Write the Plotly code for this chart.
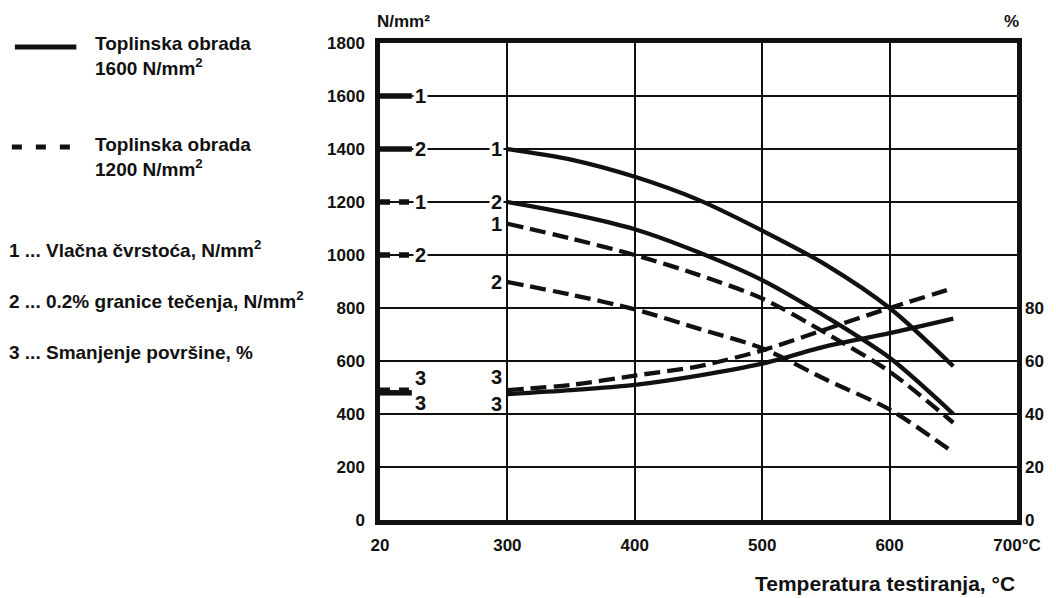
import plotly.graph_objects as go

# ---------------- data ----------------
temps = [300, 350, 400, 450, 500, 550, 600, 650]
tensile_1600 = [1400, 1360, 1295, 1208, 1092, 963, 800, 580]
yield_1600 = [1200, 1155, 1097, 1010, 905, 767, 612, 400]
tensile_1200 = [1118, 1062, 1000, 925, 836, 705, 560, 367]
yield_1200 = [898, 850, 795, 722, 648, 530, 417, 255]
area_1600 = [47.5, 49, 51, 54.5, 59, 65.5, 70.5, 76]      # %
area_1200 = [49, 51, 54.5, 58, 64, 72, 80, 87.5]          # %

room_temp = 20
rt_tensile_1600 = 1600
rt_yield_1600 = 1400
rt_tensile_1200 = 1200
rt_yield_1200 = 1000
rt_area_1600 = 48
rt_area_1200 = 49

x_tick_vals = [20, 300, 400, 500, 600, 700]
x_tick_text = ["20", "300", "400", "500", "600", "700°C"]
y_tick_vals = list(range(0, 1801, 200))
y2_tick_vals = [0, 20, 40, 60, 80]

# ---------------- layout helpers ----------------
BREAK_POS = 200       # the axis is broken: 20 °C is drawn one grid step before 300 °C
STUB_LEN = 25         # length of the room-temperature marks (axis units)
W, H = 1056, 598
ML, MR, MT, MB = 380, 34, 43, 78
PW, PH = W - ML - MR, H - MT - MB
FONT = "Arial"
BLACK = "#111111"


def xpos(t):
    return BREAK_POS if t == room_temp else t


def px_x(px):
    return (px - ML) / PW


def px_y(py):
    return (H - MB - py) / PH


SOLID = "solid"
DASH = "16px,7px"
STUB_DASH = "10px,9px"

fig = go.Figure()

curves = [
    (tensile_1600, SOLID, "y"),
    (yield_1600, SOLID, "y"),
    (tensile_1200, DASH, "y"),
    (yield_1200, DASH, "y"),
    (area_1600, SOLID, "y2"),
    (area_1200, DASH, "y2"),
]
for vals, dash, ax in curves:
    fig.add_trace(go.Scatter(
        x=[xpos(t) for t in temps], y=vals, mode="lines", yaxis=ax,
        line=dict(color=BLACK, width=4.3, dash=dash, shape="spline", smoothing=0.8),
        showlegend=False, hoverinfo="skip"))

stubs = [
    (rt_tensile_1600, SOLID, "y"),
    (rt_yield_1600, SOLID, "y"),
    (rt_tensile_1200, STUB_DASH, "y"),
    (rt_yield_1200, STUB_DASH, "y"),
    (rt_area_1600, SOLID, "y2"),
    (rt_area_1200, STUB_DASH, "y2"),
]
x0 = xpos(room_temp)
for v, dash, ax in stubs:
    fig.add_trace(go.Scatter(
        x=[x0, x0 + STUB_LEN], y=[v, v], mode="lines", yaxis=ax,
        line=dict(color=BLACK, width=5.5, dash=dash),
        showlegend=False, hoverinfo="skip", cliponaxis=False))

# curve number labels
lab_font = dict(family=FONT, size=20, color=BLACK, weight="bold")


def label(x, y, text, yref="y", xshift=0, yshift=0, mask=True):
    fig.add_annotation(x=x, y=y, xref="x", yref=yref, text=text, showarrow=False,
                       font=lab_font, bgcolor="white" if mask else "rgba(0,0,0,0)",
                       borderpad=1, xanchor="center", yanchor="middle",
                       xshift=xshift, yshift=yshift)


# at room temperature marks
label(x0, rt_tensile_1600, "1", xshift=40)
label(x0, rt_yield_1600, "2", xshift=40)
label(x0, rt_tensile_1200, "1", xshift=40)
label(x0, rt_yield_1200, "2", xshift=40)
label(x0, rt_area_1200, "3", yref="y2", xshift=40, yshift=12, mask=False)
label(x0, rt_area_1600, "3", yref="y2", xshift=40, yshift=-10, mask=False)
# at curve starts
label(temps[0], tensile_1600[0], "1", xshift=-11)
label(temps[0], yield_1600[0], "2", xshift=-11)
label(temps[0], tensile_1200[0], "1", xshift=-11)
label(temps[0], yield_1200[0], "2", xshift=-11)
label(temps[0], area_1200[0], "3", yref="y2", xshift=-11, yshift=13, mask=False)
label(temps[0], area_1600[0], "3", yref="y2", xshift=-11, yshift=-10, mask=False)

# ---------------- legend (drawn) ----------------
txt_font = dict(family=FONT, size=19, color=BLACK, weight="bold")
fig.add_shape(type="line", xref="paper", yref="paper",
              x0=px_x(12), x1=px_x(74), y0=px_y(47), y1=px_y(47),
              line=dict(color=BLACK, width=5))
fig.add_shape(type="line", xref="paper", yref="paper",
              x0=px_x(9), x1=px_x(70), y0=px_y(147), y1=px_y(147),
              line=dict(color=BLACK, width=5, dash="10px,14px"))
legend_texts = [
    (91, 56, "Toplinska obrada<br>1600 N/mm<sup>2</sup>"),
    (91, 157, "Toplinska obrada<br>1200 N/mm<sup>2</sup>"),
    (4, 249, "1 ... Vlačna čvrstoća, N/mm<sup>2</sup>"),
    (4, 300, "2 ... 0.2% granice tečenja, N/mm<sup>2</sup>"),
    (4, 352, "3 ... Smanjenje površine, %"),
]
for px, py, t in legend_texts:
    fig.add_annotation(xref="paper", yref="paper", x=px_x(px), y=px_y(py), text=t,
                       showarrow=False, xanchor="left", yanchor="middle", align="left",
                       font=txt_font)

# axis unit titles
fig.add_annotation(xref="paper", yref="paper", x=px_x(375), y=px_y(21), text="N/mm²",
                   showarrow=False, xanchor="left", yanchor="middle",
                   font=dict(family=FONT, size=17, color=BLACK, weight="bold"))
fig.add_annotation(xref="paper", yref="paper", x=px_x(1016), y=px_y(21), text="%",
                   showarrow=False, xanchor="center", yanchor="middle",
                   font=dict(family=FONT, size=17, color=BLACK, weight="bold"))
fig.add_annotation(xref="paper", yref="paper", x=px_x(1022), y=px_y(583),
                   text="Temperatura testiranja, °C",
                   showarrow=False, xanchor="right", yanchor="middle",
                   font=dict(family=FONT, size=21, color=BLACK, weight="bold"))

tick_font = dict(family=FONT, size=17, color=BLACK, weight="bold")
fig.update_layout(
    width=W, height=H,
    margin=dict(l=ML, r=MR, t=MT, b=MB, pad=0),
    paper_bgcolor="white", plot_bgcolor="white",
    showlegend=False,
    xaxis=dict(range=[BREAK_POS, 700],
               tickvals=[xpos(t) for t in x_tick_vals], ticktext=x_tick_text,
               tickfont=tick_font, ticks="", ticklabelstandoff=6,
               showgrid=True, gridcolor=BLACK, gridwidth=1.5, zeroline=False,
               showline=True, linecolor=BLACK, linewidth=4.5, mirror=True),
    yaxis=dict(range=[0, 1800], tickvals=y_tick_vals, tickfont=tick_font,
               ticks="", ticklabelstandoff=7,
               showgrid=True, gridcolor=BLACK, gridwidth=1.5, zeroline=False,
               showline=True, linecolor=BLACK, linewidth=4.5, mirror=True),
    yaxis2=dict(range=[0, 180], tickvals=y2_tick_vals, tickfont=tick_font,
                overlaying="y", side="right", showgrid=False, zeroline=False,
                ticks="", ticklabelstandoff=7, showline=False),
)

fig.write_html("out.html", config={"displayModeBar": False},
               post_script="document.body.style.margin='0';")
